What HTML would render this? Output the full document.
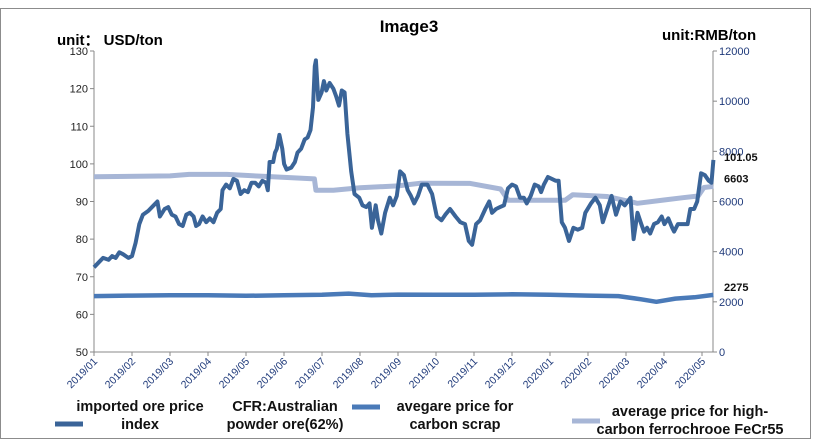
<!DOCTYPE html>
<html><head><meta charset="utf-8"><style>
body{margin:0;background:#fff;width:818px;height:442px;overflow:hidden;font-family:"Liberation Sans",Arial,sans-serif}
svg text{font-family:"Liberation Sans",Arial,sans-serif}
</style></head><body>
<svg id="chart" width="818" height="442">
<rect x="0.5" y="8.5" width="810" height="430" fill="#fff" stroke="#8c8c8c"/>
<text x="409" y="32" font-size="17" font-weight="bold" text-anchor="middle">Image3</text>
<text x="57" y="45" font-size="15" font-weight="bold">unit： USD/ton</text>
<text x="662" y="40" font-size="15" font-weight="bold">unit:RMB/ton</text>
<g id="axes"></g><g id="series"></g><g id="legend"></g>
</svg>
<script>
const monthLabels=["2019/01","2019/02","2019/03","2019/04","2019/05","2019/06","2019/07","2019/08","2019/09","2019/10","2019/11","2019/12","2020/01","2020/02","2020/03","2020/04","2020/05"];
const leftTicks=[50,60,70,80,90,100,110,120,130];
const rightTicks=[0,2000,4000,6000,8000,10000,12000];
const oreMonths=[0,.15,.25,.4,.5,.6,.7,.8,.95,1.05,1.15,1.25,1.35,1.5,1.65,1.75,1.82,1.95,2.05,2.15,2.25,2.35,2.45,2.55,2.65,2.75,2.82,2.9,3.0,3.1,3.2,3.3,3.4,3.5,3.55,3.65,3.75,3.85,3.95,4.05,4.15,4.25,4.35,4.45,4.55,4.65,4.75,4.8,4.85,4.95,5.0,5.05,5.12,5.2,5.25,5.32,5.45,5.55,5.62,5.72,5.82,5.9,5.98,6.05,6.1,6.13,6.18,6.25,6.3,6.35,6.42,6.5,6.56,6.62,6.68,6.74,6.8,6.88,6.95,7.05,7.12,7.2,7.27,7.32,7.4,7.45,7.52,7.6,7.7,7.77,7.85,7.92,8.0,8.08,8.15,8.22,8.3,8.38,8.5,8.6,8.7,8.8,8.88,8.98,9.1,9.2,9.3,9.38,9.45,9.55,9.65,9.78,9.88,9.95,10.05,10.15,10.25,10.35,10.45,10.55,10.65,10.75,10.82,10.92,11.02,11.12,11.18,11.25,11.35,11.45,11.55,11.62,11.7,11.78,11.88,11.98,12.08,12.18,12.25,12.38,12.48,12.58,12.65,12.75,12.85,12.95,13.05,13.15,13.28,13.35,13.45,13.55,13.62,13.7,13.78,13.88,13.98,14.08,14.15,14.25,14.35,14.4,14.5,14.65,14.75,14.82,14.92,15.0,15.1,15.2,15.3,15.37,15.42];
const oreValues=[72.5,74,75,74.5,75.5,75,76.5,76,75,75.5,79,84,86.5,87.5,89,90,86,88,88.5,86.5,86,84,83.5,86.5,87,86,83.5,84,86,84.5,85.5,84.5,87,88,93,94.5,93.5,96,95.5,92,93,92.5,95,95,94,95.5,95,93,100.5,100.5,103,104,107.7,104,100,98.5,99,100.5,103,104,106.5,107,109,115,126,127.5,117,119,122,119.5,121.5,120,118,115.5,119.5,119,108,98,92,91,89,88.5,89.5,83,89,85,81.5,87,91,89,91.5,98,97,93,91.5,89.5,91.5,94.5,94.5,92,86,85,86.5,88,86,84.5,84,79.5,78.5,84,85,88,90,87,88,88.5,89,93.5,94.5,94,91,91,89.5,91.5,94.5,94,92.5,94.5,96.5,96,95.5,95.5,84.5,83,79.5,83,82.5,83,87,89.5,91,89,84.5,88,91.5,86.5,90,89,91,80,87,84,82,83,81.5,84,84.5,86,84,85.5,83,82,84,84,84,88,88,90,97.5,97,95.5,95,101.05];
// calibration anchors: raw reading month -> axis month
const calRaw=[0,6.13,9.45,11.88,13.35,15.42];
const calAxis=[0,5.84,9.95,12.5,14.2,16.3];
const scrapMonths=[0,1,2,3,4,5,6,6.7,7.3,8,9,10,11,12,13,13.8,14.4,14.8,15.3,15.8,16.3];
const scrapValues=[2230,2250,2260,2260,2240,2260,2280,2330,2260,2290,2280,2280,2300,2280,2250,2230,2100,2000,2130,2180,2275];
const crMonths=[0,2,2.5,3.5,4.5,5.8,5.84,6.3,7,8,8.6,9.9,10.7,10.9,12.4,12.6,13.5,14.3,15,15.5,15.9,16.05,16.3];
const crValues=[6990,7020,7080,7080,7000,6900,6450,6450,6550,6620,6730,6720,6500,6050,6050,6270,6200,5930,6060,6150,6220,6560,6603];
const NS="http://www.w3.org/2000/svg";
const X0=94,X1=713,MW=38,YT=51,YB=352;
function xm(m){return X0+m*MW;}
function yl(v){return YB-(v-50)/80*(YB-YT);}
function yr(v){return YB-v/12000*(YB-YT);}
function cal(m){for(let i=1;i<calRaw.length;i++){if(m<=calRaw[i]||i==calRaw.length-1){const a=calRaw[i-1],b=calRaw[i];return calAxis[i-1]+(m-a)*(calAxis[i]-calAxis[i-1])/(b-a);}}}
function mk(tag,attrs,parent){const e=document.createElementNS(NS,tag);for(const k in attrs)e.setAttribute(k,attrs[k]);parent.appendChild(e);return e;}
const axes=document.getElementById('axes'),ser=document.getElementById('series'),leg=document.getElementById('legend');
let e;
e=mk('line',{x1:X0,y1:YT,x2:X0,y2:YB,stroke:'#888'},axes);


e=mk('line',{x1:X1,y1:YT,x2:X1,y2:YB,stroke:'#888'},axes);


e=mk('line',{x1:X0,y1:YB,x2:X1,y2:YB,stroke:'#888'},axes);


leftTicks.forEach(v=>{const y=yl(v);mk('line',{x1:X0-4,y1:y,x2:X0,y2:y,stroke:'#888'},axes);
 const t=mk('text',{x:X0-6,y:y+4,'font-size':11,'text-anchor':'end',fill:'#222'},axes);t.textContent=v;
 
 });
rightTicks.forEach(v=>{const y=yr(v);mk('line',{x1:X1,y1:y,x2:X1+4,y2:y,stroke:'#888'},axes);
 const t=mk('text',{x:X1+6,y:y+4,'font-size':11,fill:'#1f3a7a'},axes);t.textContent=v;
 
 });
monthLabels.forEach((l,i)=>{const x=xm(i);mk('line',{x1:x,y1:YB,x2:x,y2:YB+4,stroke:'#888'},axes);
 const t=mk('text',{x:x+4,y:YB+10,'font-size':10.5,'text-anchor':'end',fill:'#1f3a7a',transform:`rotate(-45 ${x+4} ${YB+10})`},axes);t.textContent=l;
 
 });
function line(ms,vs,yf,col,w,name,c){const d=ms.map((m,i)=>(i?'L':'M')+xm(c?cal(m):m).toFixed(1)+','+yf(vs[i]).toFixed(1)).join('');
 const p=mk('path',{d:d,fill:'none',stroke:col,'stroke-width':w,'stroke-linejoin':'round'},ser);
 
 }
line(crMonths,crValues,yr,'#a7b6d6',5,'ferrochrome-line',false);
line(scrapMonths,scrapValues,yr,'#4a7ab8',4.5,'scrap-line',false);
line(oreMonths,oreValues,yl,'#3a6498',4,'ore-index-line',true);
[[oreValues[oreValues.length-1],yl(oreValues[oreValues.length-1]),'ore-end-label','101.05'],[crValues[crValues.length-1],yr(crValues[crValues.length-1]),'ferrochrome-end-label',null],[scrapValues[scrapValues.length-1],yr(scrapValues[scrapValues.length-1]),'scrap-end-label',null]].forEach(a=>{
 const t=mk('text',{x:X1+11,y:a[1]+(a[2]=='ore-end-label'?1:-4),'font-size':11,'font-weight':'bold',fill:'#111'},axes);t.textContent=a[3]||a[0];
 
 });
const legItems=[{sx:55,sy:424,col:'#3a6498',lines:[[140,411,'imported ore price'],[140,429,'index']],name:'legend-ore-index'},
{sx:null,lines:[[285,411,'CFR:Australian'],[285,429,'powder ore(62%)']],name:'legend-ore-subtitle'},
{sx:352,sy:407,col:'#4a7ab8',lines:[[455,411,'avegare price for'],[455,429,'carbon scrap']],name:'legend-scrap'},
{sx:572,sy:421,col:'#a7b6d6',lines:[[690,416,'average price for high-'],[690,434,'carbon ferrochrooe FeCr55']],name:'legend-ferrochrome'}];
legItems.forEach(it=>{const g=mk('g',{},leg);
 
 
 if(it.sx!==null)mk('rect',{x:it.sx,y:it.sy-2.5,width:28,height:5,fill:it.col},g);
 it.lines.forEach(l=>{const t=mk('text',{x:l[0],y:l[1],'font-size':14.5,'font-weight':'bold','text-anchor':'middle',fill:'#111'},g);t.textContent=l[2];});});
</script>
</body></html>
